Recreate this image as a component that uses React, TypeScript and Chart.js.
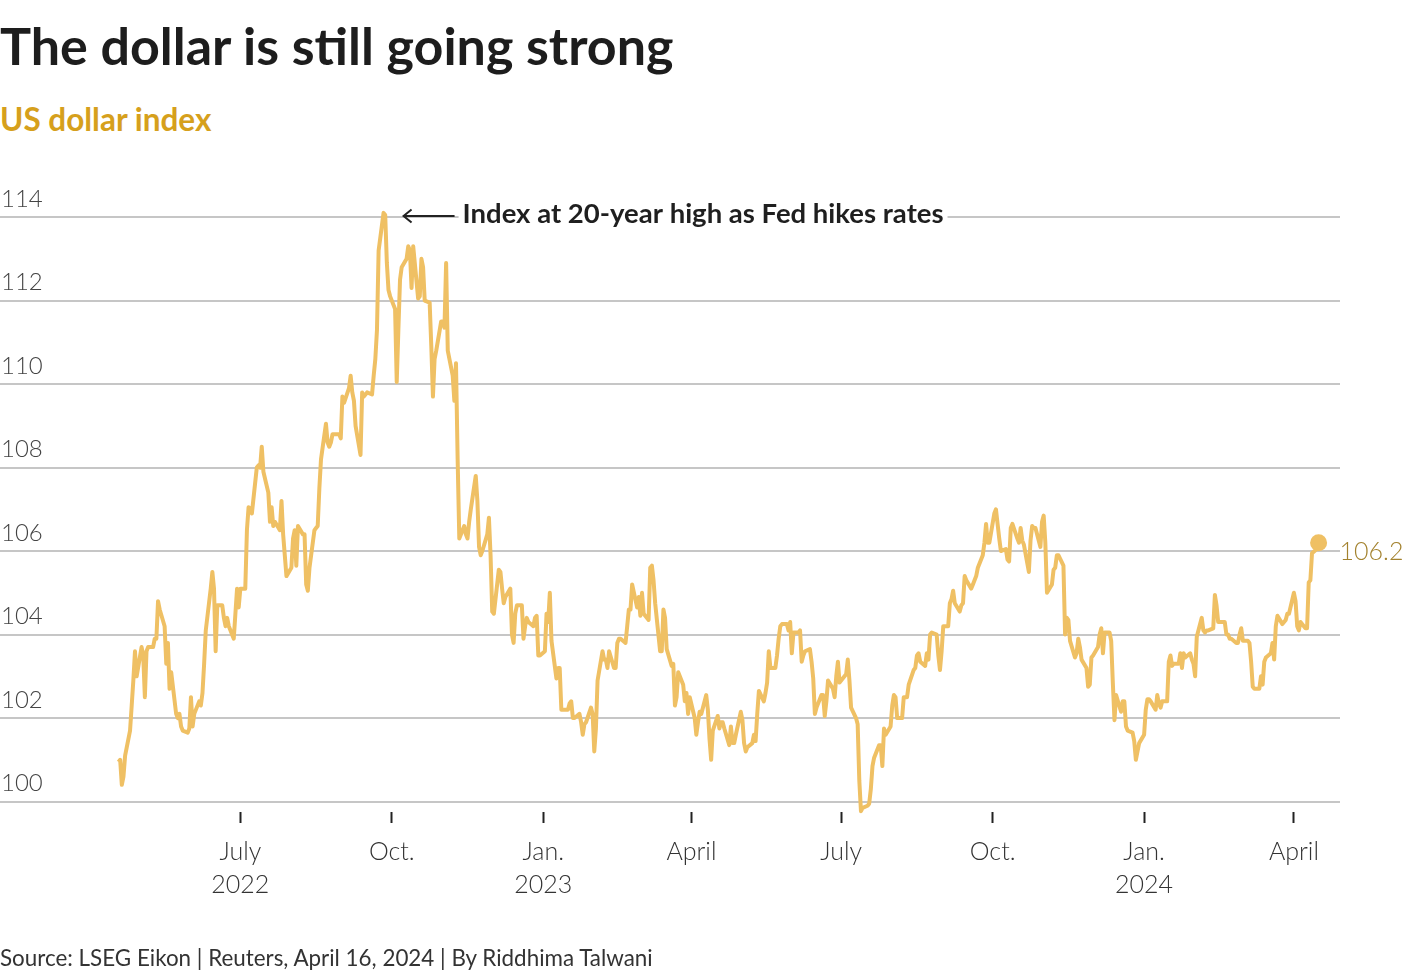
import React, { useEffect, useRef } from "react";
import { Chart, registerables } from "chart.js";

Chart.register(...registerables);

// ---- Data: US dollar index, one value per weekday (Mon-Fri) ----
const start2022 = "2022-04-18";
const dxy2022 = [
  100.95, 101.0, 100.4, 100.6, 101.1,
  101.7, 102.3, 102.9, 103.6, 103.0,
  103.7, 103.5, 102.5, 103.6, 103.7,
  103.7, 103.9, 103.9, 104.8, 104.6,
  104.2, 103.3, 103.8, 102.7, 103.1,
  102.1, 102.0, 102.1, 101.8, 101.7,
  101.65, 101.75, 102.5, 101.8, 102.1,
  102.4, 102.3, 102.6, 103.3, 104.1,
  105.1, 105.5, 105.1, 103.6, 104.7,
  104.7, 104.4, 104.2, 104.4, 104.2,
  103.9, 104.5, 105.1, 104.65, 105.1,
  105.1, 106.5, 107.05, 107.0, 106.9,
  108.0, 108.05, 108.0, 108.5, 107.9,
  107.4, 106.7, 107.05, 106.6, 106.7,
  106.5, 107.2, 106.4, 105.9, 105.4,
  105.6, 106.3, 106.5, 105.65, 106.6,
  106.4, 106.4, 105.2, 105.05, 105.6,
  106.5, 106.55, 106.6, 107.5, 108.2,
  109.05, 108.6, 108.5, 108.6, 108.8,
  108.8, 108.8, 108.7, 109.7, 109.55,
  109.9, 110.2, 109.8, 109.6, 109.0,
  108.3, 109.8, 109.7, 109.75, 109.8,
  109.75, 110.2, 110.6, 111.3, 113.2,
  114.1, 114.05, 112.9, 112.25, 112.1,
  111.8, 110.05, 111.3, 112.5, 112.8,
  113.0, 113.3, 113.2, 112.3, 113.3,
  112.05, 112.1, 113.0, 112.8, 112.0,
  111.95, 110.9, 109.7, 110.6, 110.8,
  111.5, 111.5, 111.35, 112.9, 110.8,
  110.2, 109.6, 110.5, 108.2, 106.3,
  106.6, 106.4, 106.3, 106.7, 107.0,
  107.8, 107.2, 106.1, 105.9, 106.0,
  106.4, 106.8, 105.9, 104.55, 104.5,
  105.55, 105.5, 105.1, 104.75, 104.9,
  105.1, 104.0, 103.8, 104.5, 104.7,
  104.7, 103.9, 104.2, 104.4, 104.3,
  104.2, 104.4, 104.45, 103.5, 103.5,
];

const start2023 = "2023-01-02";
const dxy2023 = [
  103.6, 104.5, 104.3, 105.0, 103.85,
  102.95, 103.2, 103.2, 102.2, 102.2,
  102.2, 102.35, 102.4, 102.0, 102.0,
  102.1, 101.9, 101.6, 101.85, 101.9,
  102.25, 102.1, 101.2, 101.75, 102.9,
  103.6, 103.4, 103.4, 103.2, 103.6,
  103.2, 103.2, 103.8, 103.9, 103.9,
  103.8, 104.2, 104.6, 104.6, 105.2,
  104.65, 104.9, 104.45, 105.0, 104.5,
  104.35, 105.6, 105.65, 105.3, 104.75,
  103.6, 103.6, 104.6, 104.4, 103.65,
  103.25, 103.3, 102.3, 102.5, 103.1,
  102.8, 102.4, 102.6, 102.1, 102.5,
  102.0, 101.6, 101.9, 102.15, 102.1,
  102.55, 102.2, 101.5, 101.0, 101.7,
  102.05, 101.75, 101.9, 101.9, 101.75,
  101.35, 101.8, 101.4, 101.4, 101.6,
  102.15, 101.95, 101.4, 101.2, 101.3,
  101.4, 101.6, 101.45, 102.1, 102.65,
  102.4, 102.6, 102.85, 103.6, 103.2,
  103.2, 103.5, 103.9, 104.2, 104.25,
  104.25, 104.1, 104.3, 103.55, 104.05,
  104.05, 104.1, 103.35, 103.5, 103.6,
  103.65, 103.35, 102.95, 102.1, 102.25,
  102.55, 102.55, 102.05, 102.4, 102.9,
  102.7, 102.5, 103.0, 103.35, 102.85,
  103.0, 103.05, 103.4, 102.9, 102.25,
  102.0, 101.85, 100.5, 99.77, 99.85,
  99.9, 99.95, 100.3, 100.85, 101.05,
  101.35, 101.35, 100.85, 101.75, 101.6,
  101.8, 102.3, 102.55, 102.5, 102.0,
  102.0, 102.5, 102.5, 102.5, 102.8,
  103.15, 103.2, 103.5, 103.55, 103.35,
  103.25, 103.55, 103.4, 104.0, 104.05,
  104.0, 103.5, 103.15, 103.6, 104.2,
  104.2, 104.75, 104.85, 105.05, 104.75,
  104.55, 104.7, 104.75, 105.4, 105.3,
  105.1, 105.2, 105.3, 105.4, 105.6,
  105.9, 106.2, 106.65, 106.2, 106.2,
  106.9, 107.0, 106.65, 106.3, 106.0,
  106.05, 105.8, 105.75, 106.55, 106.65,
  106.3, 106.2, 106.55, 106.25, 106.15,
  105.5, 106.25, 106.6, 106.55, 106.55,
  106.1, 106.7, 106.85, 106.2, 105.0,
  105.2, 105.55, 105.6, 105.9, 105.9,
  105.65, 104.0, 104.4, 104.35, 103.85,
  103.45, 103.55, 103.9, 103.7, 103.4,
  103.2, 102.75, 102.8, 103.45, 103.5,
  103.7, 104.0, 104.15, 103.55, 104.05,
  104.05, 103.85, 102.85, 101.95, 102.55,
  102.15, 102.4, 102.4, 101.8, 101.7,
  101.65, 101.45, 101.0, 101.2, 101.4,
];

const start2024 = "2024-01-01";
const dxy2024 = [
  101.6, 102.2, 102.45, 102.45, 102.4,
  102.2, 102.55, 102.35, 102.25, 102.4,
  102.4, 103.35, 103.5, 103.25, 103.3,
  103.3, 103.55, 103.2, 103.55, 103.45,
  103.55, 103.4, 103.3, 103.0, 103.95,
  104.4, 104.1, 104.05, 104.1, 104.1,
  104.15, 104.95, 104.7, 104.3, 104.3,
  104.3, 104.0, 104.0, 103.9, 103.9,
  103.8, 103.8, 104.0, 104.15, 103.85,
  103.85, 103.8, 103.35, 102.75, 102.7,
  102.7, 103.0, 102.8, 103.35, 103.45,
  103.55, 103.8, 103.4, 104.2, 104.45,
  104.25, 104.3, 104.35, 104.5, 104.5,
  105.0, 104.8, 104.2, 104.1, 104.3,
  104.15, 104.15, 105.25, 105.3, 105.95,
  106.05, 106.2,
];

// ---- Axes ----
const yTickValues = [100, 102, 104, 106, 108, 110, 112, 114];
const yRange = [99.75, 114.6];
const xRangeDates = ["2022-02-05", "2024-04-29"];
const xTickDates = [
  "2022-07-01", "2022-10-01", "2023-01-01", "2023-04-01",
  "2023-07-01", "2023-10-01", "2024-01-01", "2024-04-01",
];
const xTickLabels = [
  ["July", "2022"], ["Oct."], ["Jan.", "2023"], ["April"],
  ["July"], ["Oct."], ["Jan.", "2024"], ["April"],
];

// ---- Annotations ----
const peakDate = "2022-09-26";
const peakLineValue = 114;
const annotationText = "Index at 20-year high as Fed hikes rates";
const lastValueLabel = "106.2";

const TITLE = "The dollar is still going strong";
const SUBTITLE = "US dollar index";
const SOURCE = "Source: LSEG Eikon | Reuters, April 16, 2024 | By Riddhima Talwani";

const FONT = "Lato, 'Source Sans 3', 'Source Sans Pro', 'Noto Sans', sans-serif";
const LINE_COLOR = "#efc064";

const DAY_MS = 86400000;
const toDay = (s: string) => Math.round(Date.parse(s + "T00:00:00Z") / DAY_MS);

function weekdayPoints(start: string, values: number[]) {
  const pts: { x: number; y: number }[] = [];
  let day = toDay(start);
  values.forEach((v, i) => {
    pts.push({ x: day, y: v });
    day += 1;
    if (i % 5 === 4) day += 2;
  });
  return pts;
}

const notesPlugin = {
  id: "notes",
  afterDatasetsDraw(chart: any) {
    const { ctx } = chart;
    const x = chart.scales.x;
    const y = chart.scales.y;
    ctx.save();
    // Peak annotation
    const px = x.getPixelForValue(toDay(peakDate));
    const py = y.getPixelForValue(peakLineValue) - 1;
    const tipX = px + 20;
    const endX = px + 71;
    ctx.font = `bold 27.5px ${FONT}`;
    const tw = ctx.measureText(annotationText).width;
    const textX = px + 79;
    ctx.fillStyle = "#ffffff";
    ctx.fillRect(textX - 4, py - 17, tw + 8, 34);
    ctx.strokeStyle = "#222222";
    ctx.lineWidth = 2;
    ctx.beginPath();
    ctx.moveTo(tipX, py);
    ctx.lineTo(endX, py);
    ctx.moveTo(tipX + 8, py - 6.5);
    ctx.lineTo(tipX, py);
    ctx.lineTo(tipX + 8, py + 6.5);
    ctx.stroke();
    ctx.fillStyle = "#1f1f1f";
    ctx.textBaseline = "alphabetic";
    ctx.textAlign = "left";
    ctx.fillText(annotationText, textX, py + 7);

    // Last value label
    const meta = chart.getDatasetMeta(0);
    const last = meta.data[meta.data.length - 1];
    ctx.font = `300 25px ${FONT}`;
    ctx.fillStyle = "#a3822e";
    ctx.textBaseline = "middle";
    ctx.fillText(lastValueLabel, last.x + 21, last.y + 9);
    ctx.restore();
  },
};

export default function App() {
  const canvasRef = useRef<HTMLCanvasElement | null>(null);

  useEffect(() => {
    const canvas = canvasRef.current;
    if (!canvas) return;
    const points = [
      ...weekdayPoints(start2022, dxy2022),
      ...weekdayPoints(start2023, dxy2023),
      ...weekdayPoints(start2024, dxy2024),
    ];
    const n = points.length;
    const xTicks = xTickDates.map(toDay);

    const chart = new Chart(canvas, {
      type: "line",
      data: {
        datasets: [
          {
            data: points,
            borderColor: LINE_COLOR,
            backgroundColor: LINE_COLOR,
            borderWidth: 4,
            borderJoinStyle: "round",
            tension: 0,
            clip: false,
            pointRadius: (c: any) => (c.dataIndex === n - 1 ? 8.5 : 0),
            pointHoverRadius: 0,
            pointBorderWidth: 0,
            pointBackgroundColor: LINE_COLOR,
          },
        ],
      },
      options: {
        animation: false,
        responsive: false,
        events: [],
        layout: {
          autoPadding: false,
          padding: { left: 0, right: 80, top: 192, bottom: 0 },
        },
        plugins: {
          legend: { display: false },
          tooltip: { enabled: false },
          title: { display: false },
        },
        scales: {
          x: {
            type: "linear",
            min: toDay(xRangeDates[0]),
            max: toDay(xRangeDates[1]),
            afterBuildTicks: (axis: any) => {
              axis.ticks = xTicks.map((v) => ({ value: v }));
            },
            afterFit: (axis: any) => {
              axis.height = 168;
              axis.paddingLeft = 0;
              axis.paddingRight = 0;
            },
            ticks: {
              autoSkip: false,
              maxRotation: 0,
              minRotation: 0,
              padding: 12,
              color: "#333333",
              font: { family: FONT, size: 25, weight: "300", lineHeight: 1.33 },
              callback: (_v: any, i: number) => xTickLabels[i],
            },
            grid: {
              drawOnChartArea: false,
              drawTicks: true,
              tickLength: 11,
              tickWidth: 2,
              tickColor: "#222222",
            },
            border: { display: false },
          },
          y: {
            min: yRange[0],
            max: yRange[1],
            afterBuildTicks: (axis: any) => {
              axis.ticks = yTickValues.map((v) => ({ value: v }));
            },
            afterFit: (axis: any) => {
              axis.width = 0;
              axis.paddingTop = 0;
              axis.paddingBottom = 0;
            },
            ticks: {
              mirror: true,
              padding: 1,
              labelOffset: -18,
              color: "#444444",
              font: { family: FONT, size: 24, weight: "300" },
              callback: (v: any) => String(v),
            },
            grid: {
              color: "#c6c6c6",
              lineWidth: 2,
              drawTicks: false,
            },
            border: { display: false },
          },
        },
      },
      plugins: [notesPlugin],
    } as any);

    return () => chart.destroy();
  }, []);

  return (
    <div
      style={{
        position: "absolute",
        left: 0,
        top: 0,
        width: 1420,
        height: 980,
        background: "#ffffff",
        fontFamily: FONT,
      }}
    >
      <div
        style={{
          position: "absolute",
          left: 0,
          top: 19,
          fontSize: 52,
          lineHeight: 1,
          fontWeight: 700,
          color: "#1d1d1d",
          whiteSpace: "nowrap",
        }}
      >
        {TITLE}
      </div>
      <div
        style={{
          position: "absolute",
          left: 0,
          top: 104,
          fontSize: 31.5,
          lineHeight: 1,
          fontWeight: 700,
          color: "#d6a01c",
          whiteSpace: "nowrap",
        }}
      >
        {SUBTITLE}
      </div>
      <canvas
        ref={canvasRef}
        width={1420}
        height={980}
        style={{ position: "absolute", left: 0, top: 0 }}
      />
      <div
        style={{
          position: "absolute",
          left: 0,
          top: 947,
          fontSize: 22.4,
          lineHeight: 1,
          fontWeight: 400,
          color: "#333333",
          whiteSpace: "nowrap",
        }}
      >
        {SOURCE}
      </div>
    </div>
  );
}
